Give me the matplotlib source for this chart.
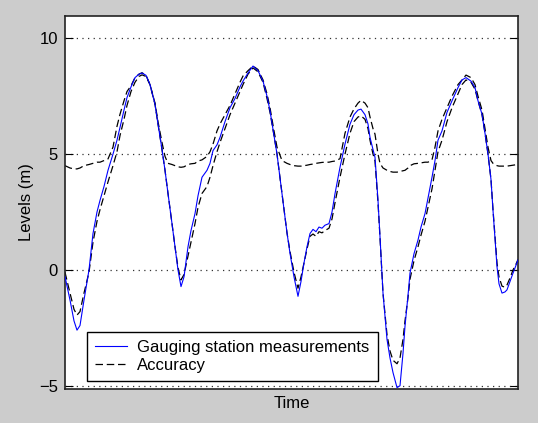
import matplotlib
matplotlib.use("Agg")
import matplotlib.pyplot as plt

plt.rcParams['font.family'] = ['Liberation Sans', 'DejaVu Sans']

# time samples (arbitrary units) and water levels in metres
t = [0, 5, 9, 12, 15, 19, 24, 28, 32, 35, 39, 43, 48, 52, 55, 59, 62, 66, 70, 74,
     77, 81, 85, 90, 93, 97, 100, 103, 107, 110, 113, 116, 119, 123, 126, 130, 133, 137,
     142, 145, 148, 152, 155, 160, 165, 170, 175, 178, 183, 188, 193, 198, 202, 205, 209,
     212, 217, 222, 225, 229, 233, 236, 239, 242, 245, 248, 251, 254, 257, 260, 264, 267,
     270, 275, 280, 285, 289, 293, 296, 300, 303, 305, 308, 310, 313, 315, 318, 322, 325,
     328, 332, 335, 338, 340, 343, 345, 349, 353, 356, 360, 363, 367, 370, 373, 377, 382,
     387, 393, 397, 401, 406, 410, 413, 417, 420, 423, 426, 428, 432, 434, 437, 440, 442,
     445, 448, 451, 453]

level = [-0.29, -1.3, -2.2, -2.6, -2.4, -1.3, 0.0, 1.57, 2.5, 3.0, 3.6, 4.3, 5.0, 5.6,
         6.15, 6.9, 7.44, 7.9, 8.3, 8.45, 8.5, 8.4, 8.0, 7.15, 6.3, 5.2, 4.3, 3.3, 2.0,
         1.0, 0.0, -0.72, -0.3, 1.0, 1.7, 2.43, 3.2, 4.0, 4.3, 4.6, 5.15, 5.4, 5.72, 6.4,
         7.0, 7.4, 7.9, 8.15, 8.5, 8.8, 8.6, 8.15, 7.5, 6.87, 5.8, 5.0, 3.29, 1.6, 0.72,
         -0.3, -1.14, -0.5, 0.3, 1.0, 1.57, 1.75, 1.65, 1.85, 1.8, 1.93, 2.0, 2.5, 3.29,
         4.43, 5.43, 6.29, 6.7, 6.9, 6.94, 6.7, 6.3, 5.72, 5.2, 4.86, 3.0, 1.43, -1.0,
         -3.0, -3.8, -4.43, -5.08, -5.0, -3.6, -2.43, -1.1, -0.14, 0.7, 1.29, 1.85, 2.43,
         3.1, 4.0, 4.72, 5.6, 6.0, 6.8, 7.3, 7.87, 8.2, 8.3, 8.15, 7.87, 7.3, 6.72, 5.9,
         5.0, 3.9, 2.57, 0.14, -0.6, -1.0, -0.95, -0.86, -0.5, -0.14, 0.2, 0.43]

upper = [4.5, 4.4, 4.36, 4.36, 4.4, 4.5, 4.55, 4.6, 4.65, 4.65, 4.72, 4.79, 5.3, 6.2,
         6.72, 7.3, 7.7, 7.95, 8.3, 8.45, 8.51, 8.4, 8.0, 7.2, 6.4, 5.5, 4.9, 4.6, 4.55,
         4.5, 4.45, 4.43, 4.45, 4.55, 4.58, 4.6, 4.7, 4.75, 4.9, 5.1, 5.43, 6.0, 6.3, 6.7,
         7.1, 7.6, 8.1, 8.37, 8.6, 8.8, 8.65, 8.2, 7.6, 7.0, 6.0, 5.3, 4.72, 4.6, 4.55,
         4.5, 4.48, 4.48, 4.5, 4.52, 4.55, 4.57, 4.6, 4.62, 4.64, 4.65, 4.65, 4.68, 4.7,
         4.8, 5.9, 6.6, 6.95, 7.2, 7.32, 7.2, 7.0, 6.6, 6.1, 5.86, 5.0, 4.6, 4.4, 4.3,
         4.25, 4.22, 4.22, 4.25, 4.28, 4.3, 4.4, 4.5, 4.58, 4.6, 4.62, 4.65, 4.65, 4.75,
         5.3, 6.0, 6.5, 7.0, 7.5, 8.0, 8.2, 8.41, 8.3, 8.0, 7.5, 6.9, 6.1, 5.3, 4.72, 4.6,
         4.5, 4.48, 4.48, 4.48, 4.48, 4.5, 4.52, 4.54, 4.55]

lower = [-0.1, -1.0, -1.7, -1.95, -1.8, -1.0, -0.1, 1.2, 2.1, 2.6, 3.2, 3.8, 4.5, 5.1,
         5.8, 6.5, 7.1, 7.7, 8.1, 8.35, 8.42, 8.35, 8.0, 7.15, 6.3, 5.2, 4.3, 3.3, 2.0,
         1.0, 0.1, -0.43, -0.2, 0.6, 1.2, 2.0, 2.7, 3.3, 3.6, 4.0, 4.5, 5.1, 5.5, 6.1,
         6.7, 7.2, 7.7, 8.0, 8.45, 8.72, 8.55, 8.1, 7.4, 6.8, 5.8, 5.0, 3.3, 1.6, 0.8,
         -0.1, -0.79, -0.3, 0.3, 0.9, 1.45, 1.55, 1.45, 1.65, 1.6, 1.7, 1.8, 2.2, 2.9,
         4.0, 5.0, 5.9, 6.4, 6.6, 6.65, 6.5, 6.1, 5.6, 5.0, 4.7, 2.9, 1.4, -1.0, -2.8,
         -3.5, -3.9, -4.05, -3.8, -3.0, -2.2, -1.2, -0.4, 0.4, 1.0, 1.5, 2.1, 2.7, 3.5,
         4.3, 5.1, 5.6, 6.4, 7.0, 7.6, 8.0, 8.2, 8.1, 7.8, 7.3, 6.7, 5.9, 5.0, 3.9, 2.6,
         0.3, -0.3, -0.7, -0.75, -0.65, -0.35, 0.0, 0.25, 0.45]

yticks = [-5, 0, 5, 10]

fig = plt.figure(figsize=(5.38, 4.23), dpi=100, facecolor='#cccccc')
ax = fig.add_axes([65 / 538, 1 - 389 / 423, 453 / 538, 373 / 423])
ax.set_facecolor('white')

for y in yticks:
    ax.axhline(y, color='#333333', lw=0.9, ls=(0, (1, 3.5)), zorder=1)

ax.plot(t, level, color='blue', lw=0.8, label='Gauging station measurements', zorder=3)
ax.plot(t, upper, color='black', lw=0.9, dashes=(6, 3), label='Accuracy', zorder=2)
ax.plot(t, lower, color='black', lw=0.9, dashes=(6, 3), zorder=2)

ax.set_xlim(0, 453)
ax.set_ylim(-5.14, 10.96)
ax.set_xticks([])
ax.set_yticks(yticks)
ax.tick_params(axis='y', direction='in', length=6, right=True, labelsize=12, width=0.8, pad=5)
for s in ax.spines.values():
    s.set_linewidth(1.2)
    s.set_color('#222222')

ax.set_ylabel('Levels (m)', fontsize=12, labelpad=4)
ax.set_xlabel('Time', fontsize=12, labelpad=5)

leg = ax.legend(loc='lower left', bbox_to_anchor=(22 / 453, 8 / 373), fontsize=12,
                fancybox=False, framealpha=1, edgecolor='black', borderpad=0.5,
                labelspacing=0.15, handlelength=1.9, handletextpad=0.6, borderaxespad=0)
leg.get_frame().set_linewidth(1.0)

fig.savefig('out.png', dpi=100, facecolor=fig.get_facecolor())
